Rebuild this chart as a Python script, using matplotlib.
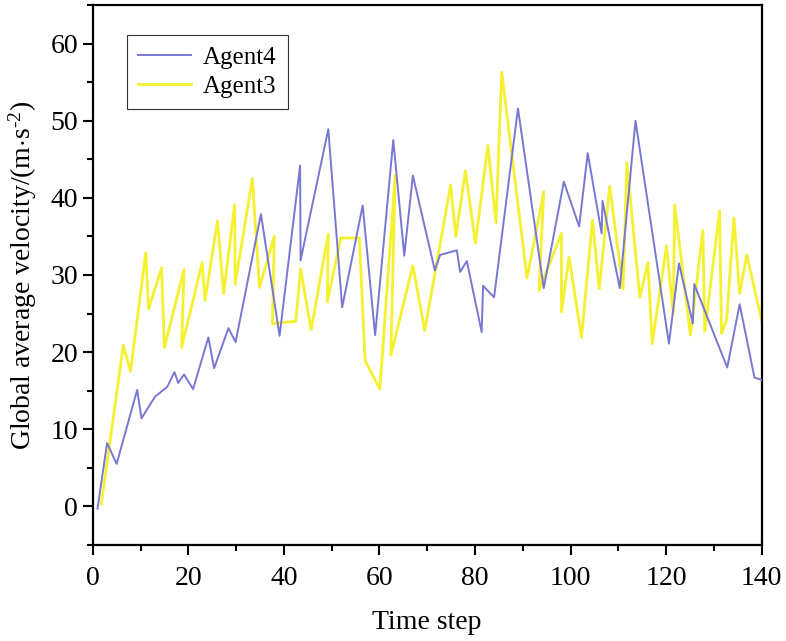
import matplotlib
matplotlib.use("Agg")
import matplotlib.pyplot as plt
from matplotlib.ticker import MultipleLocator

plt.rcParams['font.family'] = ['Liberation Serif', 'DejaVu Serif']
plt.rcParams['mathtext.fontset'] = 'custom'
plt.rcParams['mathtext.rm'] = 'Liberation Serif'
plt.rcParams['mathtext.it'] = 'Liberation Serif:italic'

# Agent4 (blue) vertices
t_agent4 = [1.0, 3.0, 5.0, 9.3, 10.2, 13.0, 15.6, 17.1, 17.9, 19.1, 21.0, 24.2, 25.4, 28.4,
            29.9, 35.2, 39.1, 43.4, 43.5, 49.3, 52.2, 56.5, 59.1, 62.9, 65.2, 67.0, 71.6,
            72.7, 76.2, 76.9, 78.3, 81.4, 81.7, 84.0, 89.0, 94.4, 98.6, 101.8, 103.6, 106.5,
            106.7, 110.3, 113.6, 120.6, 122.7, 125.6, 125.9, 132.8, 135.4, 138.5, 140.0]
v_agent4 = [-0.3, 8.2, 5.5, 15.1, 11.4, 14.2, 15.5, 17.4, 16.0, 17.1, 15.2, 21.9, 17.9, 23.1,
            21.3, 37.9, 22.1, 44.2, 31.9, 48.9, 25.8, 39.0, 22.2, 47.5, 32.5, 42.9, 30.6,
            32.6, 33.2, 30.4, 31.8, 22.6, 28.6, 27.1, 51.6, 28.3, 42.1, 36.3, 45.8, 35.4,
            39.6, 28.3, 50.0, 21.1, 31.5, 23.7, 28.8, 18.0, 26.2, 16.7, 16.4]

# Agent3 (yellow) vertices
t_agent3 = [1.8, 6.4, 7.9, 11.1, 11.7, 14.4, 15.0, 19.1, 18.6, 22.9, 23.5, 26.1, 27.4, 29.7,
            29.8, 33.4, 34.9, 38.0, 37.6, 42.5, 43.5, 45.7, 49.3, 49.1, 51.9, 55.8, 57.0,
            60.1, 63.3, 62.4, 67.0, 69.5, 74.9, 76.0, 78.0, 80.1, 82.7, 84.4, 85.6, 90.9,
            94.4, 93.4, 98.1, 98.1, 99.7, 102.3, 104.6, 106.0, 108.2, 111.0, 111.8, 114.5,
            116.2, 117.1, 120.1, 121.5, 121.8, 125.1, 127.7, 128.1, 131.2, 131.6, 132.7,
            134.2, 135.4, 136.9, 140.0]
v_agent3 = [0.3, 20.9, 17.5, 32.9, 25.6, 30.9, 20.6, 30.7, 20.6, 31.6, 26.7, 37.0, 27.6, 39.1,
            28.8, 42.5, 28.4, 35.0, 23.7, 24.0, 30.8, 22.9, 35.3, 26.5, 34.8, 34.8, 18.9,
            15.2, 42.9, 19.6, 31.2, 22.8, 41.7, 35.0, 43.5, 34.1, 46.8, 36.8, 56.3, 29.6,
            40.8, 28.0, 35.4, 25.2, 32.3, 21.9, 37.1, 28.2, 41.5, 28.2, 44.6, 27.1,
            31.6, 21.1, 33.8, 25.0, 39.1, 22.2, 35.8, 22.7, 38.3, 22.4, 24.3,
            37.4, 27.6, 32.6, 24.1]

fig = plt.figure(figsize=(7.86, 6.41), dpi=100)
ax = fig.add_axes([0.118, 0.150, 0.851, 0.842])

ax.plot(t_agent4, v_agent4, color='#7878d2', lw=1.4, label='Agent4', zorder=3)
ax.plot(t_agent3, v_agent3, color='#f5f030', lw=2.0, label='Agent3', zorder=2)

ax.set_xlim(0, 140)
ax.set_ylim(-5, 65)
ax.xaxis.set_major_locator(MultipleLocator(20))
ax.xaxis.set_minor_locator(MultipleLocator(10))
ax.yaxis.set_major_locator(MultipleLocator(10))
ax.yaxis.set_minor_locator(MultipleLocator(5))
ax.tick_params(which='major', direction='out', length=7, width=1.5, labelsize=20)
ax.tick_params(axis='x', which='major', pad=8)
ax.tick_params(which='minor', direction='out', length=4, width=1.5)
for s in ax.spines.values():
    s.set_linewidth(1.6)

ax.set_xlabel('Time step', fontsize=20, labelpad=14)
ax.set_ylabel('Global average velocity/(m$\\cdot$s$^{\u20102}$)', fontsize=20, labelpad=8)

leg = ax.legend(loc='upper left', bbox_to_anchor=(0.051, 0.944), borderaxespad=0,
                fontsize=18, frameon=True, fancybox=False, edgecolor='black',
                handlelength=2.1, handletextpad=0.5, borderpad=0.45, labelspacing=0.25)
leg.get_frame().set_linewidth(0.8)

fig.savefig('out.png', dpi=100)
